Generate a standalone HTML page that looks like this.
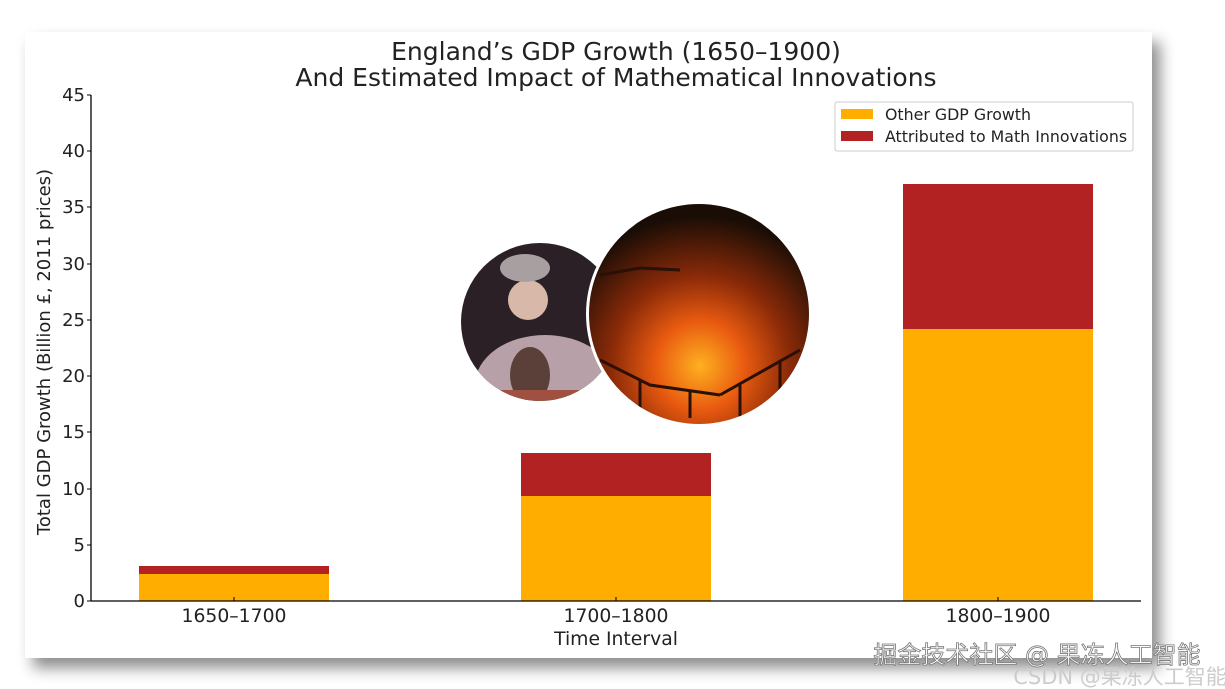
<!DOCTYPE html>
<html><head><meta charset="utf-8"><style>
body{margin:0;width:1225px;height:689px;background:#fff;overflow:hidden;position:relative}
#card{position:absolute;left:25px;top:32px;width:1127px;height:626px;background:#fff;box-shadow:8px 10px 14px rgba(0,0,0,0.45)}
svg{position:absolute;left:0;top:0}
text{font-family:"DejaVu Sans","Liberation Sans",sans-serif;fill:#222}
</style></head><body>
<div id="card"></div>
<svg width="1225" height="689" viewBox="0 0 1225 689">
<defs>
<radialGradient id="fire" cx="0.5" cy="0.72" r="0.65">
<stop offset="0" stop-color="#ffb020"/><stop offset="0.3" stop-color="#e85a10"/><stop offset="0.6" stop-color="#8a2a08"/><stop offset="1" stop-color="#1a0d06"/></radialGradient>
<clipPath id="pc"><circle cx="540" cy="322" r="79"/></clipPath>
<clipPath id="fc"><circle cx="699" cy="314" r="110"/></clipPath>
</defs>
<text x="616" y="60" font-size="25" text-anchor="middle">England’s GDP Growth (1650–1900)</text>
<text x="616" y="86" font-size="25" text-anchor="middle">And Estimated Impact of Mathematical Innovations</text>
<rect x="139" y="574" width="190" height="27" fill="#FFAE00"/>
<rect x="139" y="566" width="190" height="8" fill="#B22222"/>
<rect x="521" y="496" width="190" height="105" fill="#FFAE00"/>
<rect x="521" y="453" width="190" height="43" fill="#B22222"/>
<rect x="903" y="329" width="190" height="272" fill="#FFAE00"/>
<rect x="903" y="184" width="190" height="145" fill="#B22222"/>
<g clip-path="url(#pc)">
<rect x="460" y="240" width="160" height="165" fill="#2c2027"/>
<ellipse cx="545" cy="385" rx="70" ry="50" fill="#b8a0a8"/>
<ellipse cx="530" cy="375" rx="20" ry="28" fill="#5a4038"/>
<circle cx="528" cy="300" r="20" fill="#d8b8a8"/>
<ellipse cx="525" cy="268" rx="25" ry="14" fill="#a8a0a0"/>
<rect x="460" y="390" width="160" height="20" fill="#a05040"/>
</g>
<circle cx="699" cy="314" r="113" fill="#fff"/>
<g clip-path="url(#fc)">
<rect x="585" y="200" width="230" height="230" fill="url(#fire)"/>
<g stroke="#2a1005" stroke-width="3" fill="none">
<polyline points="600,360 650,385 720,395"/><polyline points="720,395 800,350"/>
<line x1="640" y1="380" x2="640" y2="418"/><line x1="690" y1="390" x2="690" y2="418"/><line x1="740" y1="385" x2="740" y2="418"/><line x1="780" y1="360" x2="780" y2="418"/>
<polyline points="600,275 640,268 680,270"/>
</g>
</g>
<line x1="91" y1="95" x2="91" y2="601" stroke="#000" stroke-width="1.3"/>
<line x1="91" y1="601" x2="1141" y2="601" stroke="#000" stroke-width="1.3"/>
<g font-size="18" text-anchor="end">
<text x="85" y="607">0</text><text x="85" y="551">5</text><text x="85" y="495">10</text><text x="85" y="438">15</text><text x="85" y="382">20</text><text x="85" y="326">25</text><text x="85" y="270">30</text><text x="85" y="213">35</text><text x="85" y="157">40</text><text x="85" y="101">45</text>
</g>
<g stroke="#000">
<line x1="87" y1="601" x2="91" y2="601"/><line x1="87" y1="545" x2="91" y2="545"/><line x1="87" y1="489" x2="91" y2="489"/><line x1="87" y1="432" x2="91" y2="432"/><line x1="87" y1="376" x2="91" y2="376"/><line x1="87" y1="320" x2="91" y2="320"/><line x1="87" y1="264" x2="91" y2="264"/><line x1="87" y1="207" x2="91" y2="207"/><line x1="87" y1="151" x2="91" y2="151"/><line x1="87" y1="95" x2="91" y2="95"/>
<line x1="234" y1="601" x2="234" y2="597"/><line x1="616" y1="601" x2="616" y2="597"/><line x1="998" y1="601" x2="998" y2="597"/>
</g>
<g font-size="18.8" text-anchor="middle">
<text x="234" y="622">1650–1700</text><text x="616" y="622">1700–1800</text><text x="998" y="622">1800–1900</text>
<text x="616" y="645">Time Interval</text>
</g>
<text transform="translate(50,352) rotate(-90)" font-size="18" text-anchor="middle">Total GDP Growth (Billion £, 2011 prices)</text>
<rect x="835" y="102" width="298" height="49" fill="#fff" stroke="#ccc" rx="2"/>
<rect x="841" y="109" width="32" height="10" fill="#FFAE00"/>
<rect x="841" y="131" width="32" height="10" fill="#B22222"/>
<text x="885" y="120" font-size="15.8">Other GDP Growth</text>
<text x="885" y="142" font-size="15.8">Attributed to Math Innovations</text>
<text x="1120" y="684" font-size="21" style="fill:#ccc" text-anchor="middle">CSDN @果冻人工智能</text>
<text x="1037" y="663" font-size="24" style="fill:#fff;stroke:#777;stroke-width:0.8" text-anchor="middle" font-family="Noto Sans CJK SC,sans-serif">掘金技术社区 @ 果冻人工智能</text>
</svg>
</body></html>
